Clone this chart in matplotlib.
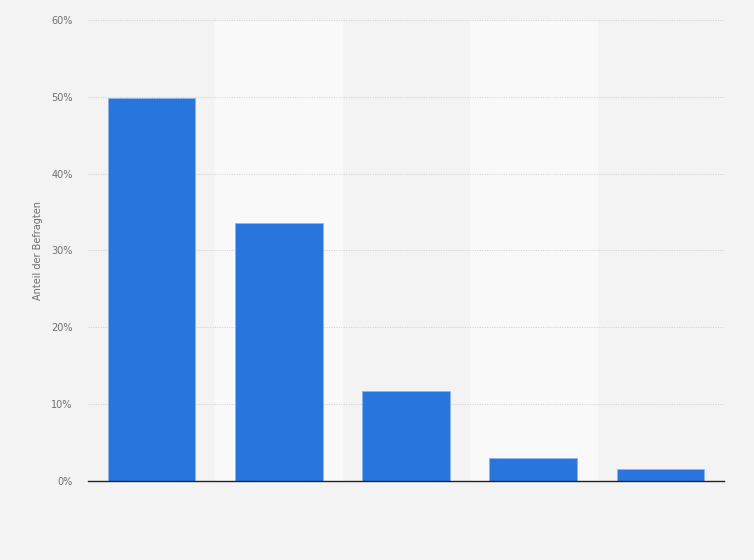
import matplotlib
matplotlib.use('Agg')
import numpy as np
import matplotlib.pyplot as plt
from matplotlib.ticker import FuncFormatter

# values
categories = ['A', 'B', 'C', 'D', 'E']
shares = [49.9, 33.6, 11.7, 3.0, 1.5]
yticks = [0, 10, 20, 30, 40, 50, 60]

fig = plt.figure(figsize=(7.54, 5.6), dpi=100)
fig.patch.set_facecolor('#f3f3f3')
ax = fig.add_axes([0.1167, 0.1411, 0.8435, 0.8232])
ax.set_facecolor('#f3f3f3')

x = np.arange(len(categories))
# lighter bands behind every second column
for i in x:
    if i % 2 == 1:
        ax.axvspan(i - 0.5, i + 0.5, color='#f9f9f9', zorder=0)

ax.bar(x, shares, width=0.69, color='#2876dd', edgecolor='#8fb5ee', linewidth=0.6, zorder=3)

ax.set_xlim(-0.5, len(categories) - 0.5)
ax.set_ylim(0, 60)
ax.set_yticks(yticks)
ax.yaxis.set_major_formatter(FuncFormatter(lambda v, p: f'{v:.0f}%'))
ax.set_xticks([])
ax.tick_params(axis='y', length=0, labelsize=7, labelcolor='#6e6e6e', pad=11)
ax.grid(axis='y', color='#cccccc', linestyle=(0, (1, 1.5)), linewidth=0.7, zorder=1)

for s in ['top', 'right', 'left']:
    ax.spines[s].set_visible(False)
ax.spines['bottom'].set_color('#222222')
ax.spines['bottom'].set_linewidth(1.0)
ax.spines['bottom'].set_zorder(4)

ax.set_ylabel('Anteil der Befragten', fontsize=7, color='#6e6e6e', labelpad=6)

fig.savefig('out.png', dpi=100, facecolor=fig.get_facecolor())
